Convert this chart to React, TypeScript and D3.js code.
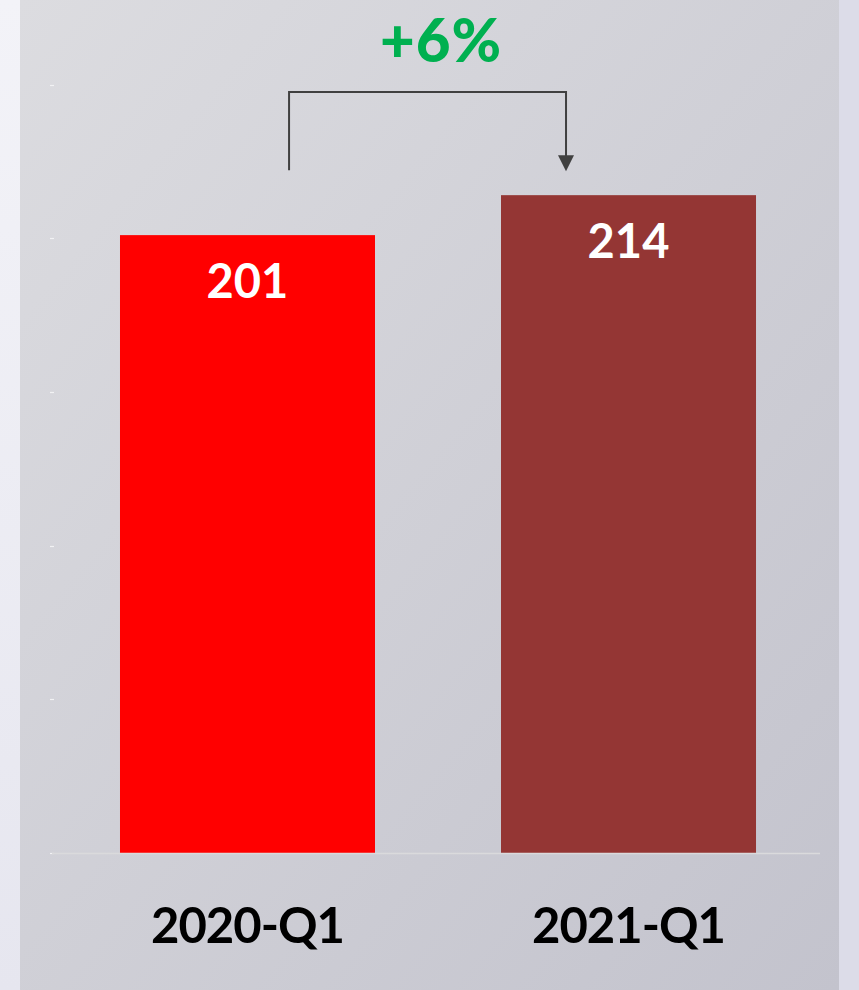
import React, { useRef, useEffect } from "react";
import { select, scaleBand, scaleLinear } from "d3";

const categories = ["2020-Q1", "2021-Q1"];
const values = [201, 214];
const barColors = ["#ff0000", "#943634"];
const tickValues = [0, 50, 100, 150, 200, 250];
const changeLabel = "+6%";

const W = 859;
const H = 990;

function App() {
  const svgRef = useRef(null);

  useEffect(() => {
    document.body.style.margin = "0";
    const svg = select(svgRef.current);
    svg.selectAll("*").remove();

    const x = scaleBand()
      .domain(categories)
      .range([54, 822])
      .paddingInner(0.3307)
      .paddingOuter(0.1732);
    const y = scaleLinear().domain([0, 250]).range([853, 84.5]);
    const bw = x.bandwidth();

    const defs = svg.append("defs");
    const g1 = defs
      .append("linearGradient")
      .attr("id", "panelGrad")
      .attr("x1", "0")
      .attr("y1", "0")
      .attr("x2", "1")
      .attr("y2", "1");
    g1.append("stop").attr("offset", "0").attr("stop-color", "#dcdce0");
    g1.append("stop").attr("offset", "1").attr("stop-color", "#c3c3cd");

    const g2 = defs
      .append("linearGradient")
      .attr("id", "leftGrad")
      .attr("x1", "0")
      .attr("y1", "0")
      .attr("x2", "0")
      .attr("y2", "1");
    g2.append("stop").attr("offset", "0").attr("stop-color", "#f3f3f8");
    g2.append("stop").attr("offset", "1").attr("stop-color", "#e6e6ef");

    // backgrounds
    svg.append("rect").attr("width", W).attr("height", H).attr("fill", "#dcdce8");
    svg.append("rect").attr("width", 20).attr("height", H).attr("fill", "url(#leftGrad)");
    svg
      .append("rect")
      .attr("x", 20)
      .attr("width", 819)
      .attr("height", H)
      .attr("fill", "url(#panelGrad)");

    // tiny tick marks
    svg
      .selectAll(".tick")
      .data(tickValues)
      .join("line")
      .attr("class", "tick")
      .attr("x1", 50)
      .attr("x2", 54)
      .attr("y1", (d) => Math.round(y(d)) + 0.5)
      .attr("y2", (d) => Math.round(y(d)) + 0.5)
      .attr("stroke", "#f2f2f4")
      .attr("stroke-width", 1.2);

    // bars
    svg
      .selectAll(".bar")
      .data(values)
      .join("rect")
      .attr("class", "bar")
      .attr("x", (d, i) => x(categories[i]))
      .attr("y", (d) => y(d))
      .attr("width", bw)
      .attr("height", (d) => y(0) - y(d))
      .attr("fill", (d, i) => barColors[i]);

    // baseline
    svg
      .append("line")
      .attr("x1", 52)
      .attr("x2", 820)
      .attr("y1", y(0) + 0.5)
      .attr("y2", y(0) + 0.5)
      .attr("stroke", "#dadadc")
      .attr("stroke-width", 1.5);

    // value labels
    svg
      .selectAll(".val")
      .data(values)
      .join("text")
      .attr("class", "val")
      .attr("x", (d, i) => x(categories[i]) + bw / 2)
      .attr("y", (d) => y(d) + 63)
      .attr("text-anchor", "middle")
      .attr("fill", "#ffffff")
      .style("font-family", "Lato, 'Open Sans', sans-serif")
      .style("font-weight", 700)
      .style("font-size", "47px")
      .text((d) => d);

    // category labels
    svg
      .selectAll(".cat")
      .data(categories)
      .join("text")
      .attr("class", "cat")
      .attr("x", (d) => x(d) + bw / 2)
      .attr("y", 943)
      .attr("text-anchor", "middle")
      .attr("fill", "#000000")
      .style("font-family", "Lato, 'Open Sans', sans-serif")
      .style("font-weight", 700)
      .style("font-size", "49px")
      .style("letter-spacing", "-1px")
      .text((d) => d);

    // change bracket
    const bx1 = x(categories[0]) + bw * 0.663;
    const bx2 = x(categories[1]) + bw * 0.255;
    const endY = y(values[1]) - 25;
    const topY = 92;
    svg
      .append("path")
      .attr("d", `M${bx1},${endY} V${topY} H${bx2} V${endY - 14}`)
      .attr("fill", "none")
      .attr("stroke", "#404040")
      .attr("stroke-width", 2);
    svg
      .append("path")
      .attr("d", `M${bx2 - 8},${endY - 15} L${bx2 + 8},${endY - 15} L${bx2},${endY + 1} Z`)
      .attr("fill", "#404040");

    svg
      .append("text")
      .attr("x", (bx1 + bx2) / 2 + 13.5)
      .attr("y", 62)
      .attr("text-anchor", "middle")
      .attr("fill", "#00b050")
      .style("font-family", "Lato, 'Open Sans', sans-serif")
      .style("font-weight", 900)
      .style("font-size", "60px")
      .style("letter-spacing", "1px")
      .text(changeLabel);
  }, []);

  return (
    <div style={{ width: W, height: H }}>
      <svg ref={svgRef} width={W} height={H} style={{ display: "block" }}></svg>
    </div>
  );
}

export default App;
